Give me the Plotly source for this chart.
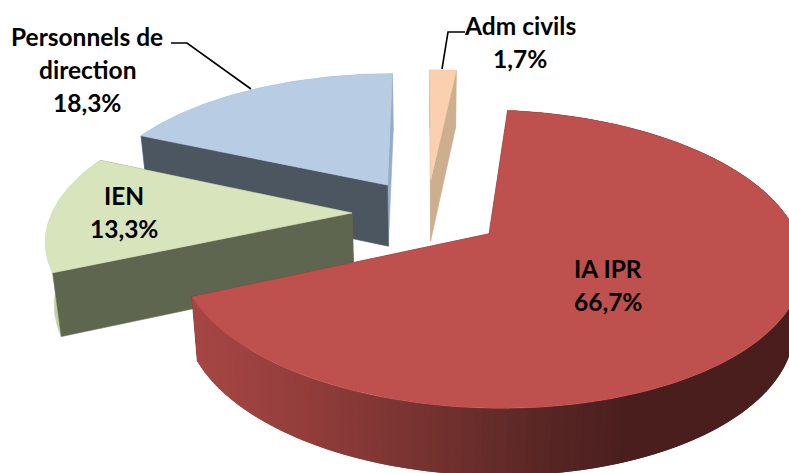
import math
import plotly.graph_objects as go

categories = ["IA IPR", "IEN", "Personnels de direction", "Adm civils"]
values = [66.7, 13.3, 18.3, 1.7]
label_lines = [["IA IPR"], ["IEN"], ["Personnels de", "direction"], ["Adm civils"]]
top_colors = ["#BE504D", "#D7E4BC", "#B8CCE4", "#FBD0AE"]
face_colors = ["#6E2A29", "#5F6650", "#4C5660", "#CDAF90"]
end_colors = ["#6E2A29", "#5F6650", "#94ACCB", "#CDAF90"]
arc_colors = [None, "#C3CFA8", "#94ACCB", "#CDAF90"]

# pie projection (camera set-up, not data)
START = 6.0
EXPLODE = 0.25
CX, CY, RX, RY, K = 427.0, 213.0, 300.0, 138.0, 0.165
DEPTH, SHRINK = 62.0, 0.977


def proj(u, v, low=False):
    s = 1 / (1 + K * v)
    x = CX + RX * u * s
    y = CY - RY * v * s
    if low:
        x = CX + (x - CX) * SHRINK
        y += DEPTH * s ** 0.4
    return x, y


def poly(fig, pts, color, lw=0.6):
    fig.add_trace(go.Scatter(
        x=[p[0] for p in pts] + [pts[0][0]],
        y=[p[1] for p in pts] + [pts[0][1]],
        mode="lines", fill="toself", fillcolor=color,
        line=dict(color=color, width=lw),
        hoverinfo="skip", showlegend=False,
    ))


def mix(x):
    stops = [(195, (166, 70, 68)), (300, (147, 62, 59)), (450, (112, 48, 46)),
             (560, (85, 37, 35)), (630, (75, 30, 30)), (800, (75, 30, 30))]
    x = max(195, min(800, x))
    for (a, ca), (b, cb) in zip(stops, stops[1:]):
        if x <= b:
            t = (x - a) / (b - a)
            return "rgb(%d,%d,%d)" % tuple(round(p + (q - p) * t) for p, q in zip(ca, cb))
    return "rgb(75,30,30)"


fig = go.Figure()
total = sum(values)
spans = []
a = START
for val in values:
    b = a + val / total * 360
    spans.append((a, b))
    a = b

for i in [3, 2, 1, 0]:
    a0, a1 = spans[i]
    mid = math.radians((a0 + a1) / 2)
    ou, ov = EXPLODE * math.sin(mid), EXPLODE * math.cos(mid)
    n = max(3, int((a1 - a0)))
    angs = [math.radians(a0 + (a1 - a0) * j / n) for j in range(n + 1)]
    rim = [(ou + math.sin(t), ov + math.cos(t)) for t in angs]
    top_rim = [proj(*p) for p in rim]
    low_rim = [proj(*p, low=True) for p in rim]
    apex, apex_low = proj(ou, ov), proj(ou, ov, low=True)

    poly(fig, [apex, top_rim[-1], low_rim[-1], apex_low], end_colors[i])
    if arc_colors[i]:
        poly(fig, top_rim + low_rim[::-1], arc_colors[i])
    else:
        # painted band by band, each one overlapping the last
        for j in range(n):
            k = min(n, j + 2)
            quad = [top_rim[j], top_rim[k], low_rim[k], low_rim[j]]
            poly(fig, quad, mix((top_rim[j][0] + top_rim[j + 1][0]) / 2), lw=0)
    poly(fig, [apex, top_rim[0], low_rim[0], apex_low], face_colors[i])
    poly(fig, [apex] + top_rim, top_colors[i])

fmt = [str(v).replace(".", ",") + "%" for v in values]
text_pos = [(608, [268, 301]), (124, [195, 228]), (87, [36, 69, 102]), (520, [25, 58])]
ann = []
for i, (cx, ys) in enumerate(text_pos):
    for line, y in zip(label_lines[i] + [fmt[i]], ys):
        ann.append(dict(x=cx, y=y, xref="x", yref="y", text="<b>%s</b>" % line,
                        showarrow=False, xanchor="center", yanchor="middle",
                        font=dict(family="Lato", size=24.5, color="#000000")))

leaders = ["M 171 43 L 187 43 L 251 89", "M 465 32 L 448 32 L 442 69"]
shapes = [dict(type="path", path=p, xref="x", yref="y",
               line=dict(color="#000000", width=1.6)) for p in leaders]

fig.update_layout(
    width=789, height=473, margin=dict(l=0, r=0, t=0, b=0),
    paper_bgcolor="white", plot_bgcolor="white",
    xaxis=dict(range=[0, 789], visible=False, fixedrange=True),
    yaxis=dict(range=[473, 0], visible=False, fixedrange=True),
    annotations=ann, shapes=shapes,
)
fig.write_html("out.html", config={"displayModeBar": False},
               post_script="document.body.style.margin='0';document.documentElement.style.overflow='hidden';")
